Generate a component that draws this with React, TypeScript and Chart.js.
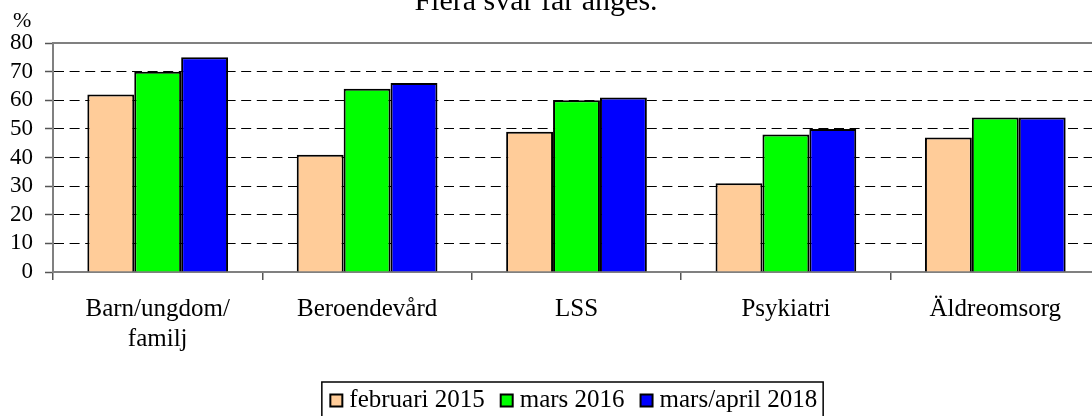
import { useEffect, useRef } from 'react';
import { Chart, registerables } from 'chart.js';

Chart.register(...registerables);

const FAMILY = "'Liberation Serif', 'Times New Roman', serif";

const categories: (string | string[])[] = [['Barn/ungdom/', 'familj'], 'Beroendevård', 'LSS', 'Psykiatri', 'Äldreomsorg'];
const seriesNames = ['februari 2015', 'mars 2016', 'mars/april 2018'];
const feb2015 = [62, 41, 49, 31, 47];
const mar2016 = [70, 64, 60, 48, 54];
const marApr2018 = [75, 66, 61, 50, 54];
const seriesColors = ['#FFCC99', '#00FF00', '#0000FF'];
const yMin = 0;
const yMax = 80;
const yStep = 10;
const titleText = 'Flera svar får anges.';
const unitLabel = '%';

const extraTextPlugin = {
  id: 'extraText',
  afterDraw(chart: any) {
    const { ctx, chartArea, scales } = chart;
    ctx.save();
    ctx.fillStyle = '#000';
    ctx.textBaseline = 'alphabetic';
    ctx.font = `30px ${FAMILY}`;
    ctx.textAlign = 'center';
    ctx.fillText(titleText, 536, 9.5);
    ctx.font = `22px ${FAMILY}`;
    ctx.textAlign = 'left';
    ctx.fillText(unitLabel, scales.y.left + 13, chartArea.top - 16);

    const lg = chart.legend;
    const hb = lg && lg.legendHitBoxes;
    if (hb && hb.length) {
      const first = hb[0];
      const last = hb[hb.length - 1];
      const left = first.left - 8 - 6;
      const right = last.left + last.width + 6;
      const top = first.top - 6;
      ctx.lineWidth = 1.5;
      ctx.strokeStyle = '#000';
      ctx.strokeRect(left, top, right - left, 90);
    }
    ctx.restore();
  },
};

export default function App() {
  const ref = useRef<HTMLCanvasElement | null>(null);

  useEffect(() => {
    if (!ref.current) return;
    const data = [feb2015, mar2016, marApr2018];
    const chart = new Chart(ref.current, {
      type: 'bar',
      data: {
        labels: categories as any,
        datasets: seriesNames.map((name, i) => ({
          label: name,
          data: data[i],
          backgroundColor: seriesColors[i],
          borderColor: '#000',
          borderWidth: { top: 2, left: 2, right: 2, bottom: 0 },
          borderSkipped: 'start',
          categoryPercentage: 0.672,
          barPercentage: 1,
          xAxisID: 'x',
          yAxisID: 'y',
        })),
      },
      options: {
        animation: false,
        responsive: false,
        devicePixelRatio: 1,
        layout: { padding: { top: 43, right: 7, bottom: 0, left: 0 } },
        font: { family: FAMILY },
        color: '#000',
        plugins: {
          title: { display: false },
          tooltip: { enabled: false },
          legend: {
            position: 'bottom',
            fullSize: false,
            labels: {
              font: { size: 25, family: FAMILY },
              color: '#000',
              usePointStyle: true,
              pointStyle: 'rect',
              boxWidth: 1,
              boxHeight: 12,
              padding: 21.5,
              generateLabels: (c: any) =>
                Chart.defaults.plugins.legend.labels
                  .generateLabels(c)
                  .map((it: any) => ({ ...it, lineWidth: 2, strokeStyle: '#000', pointStyle: 'rect' })),
            },
          },
        },
        scales: {
          x: {
            type: 'category',
            position: 'bottom',
            offset: true,
            grid: {
              offset: true,
              drawOnChartArea: false,
              drawTicks: true,
              tickLength: 8,
              color: '#555',
              tickColor: '#555',
              lineWidth: 1.5,
            },
            border: { display: true, color: '#808080', width: 2 },
            ticks: {
              font: { size: 25, family: FAMILY },
              color: '#000',
              padding: 14.5,
              maxRotation: 0,
              autoSkip: false,
            },
            afterFit: (s: any) => {
              s.height = 94.5;
            },
          },
          x2: {
            type: 'category',
            position: 'top',
            offset: true,
            grid: { display: true, drawOnChartArea: false, drawTicks: false, color: 'rgba(0,0,0,0)' },
            border: { display: true, color: '#808080', width: 2 },
            ticks: { display: false },
            afterFit: (s: any) => {
              s.height = 0;
            },
          },
          y: {
            min: yMin,
            max: yMax,
            ticks: {
              stepSize: yStep,
              autoSkip: false,
              font: { size: 23, family: FAMILY },
              color: '#000',
              padding: 12,
            },
            grid: {
              color: (ctx: any) =>
                ctx.tick && (ctx.tick.value === yMin || ctx.tick.value === yMax) ? 'rgba(0,0,0,0)' : '#000',
              lineWidth: 1,
              tickLength: 8,
              tickColor: '#555',
              tickWidth: 1.5,
              tickBorderDash: [],
            },
            border: { display: true, color: '#808080', width: 2, dash: [10, 5.6] },
            afterFit: (s: any) => {
              s.width = 53;
            },
          },
        },
      } as any,
      plugins: [extraTextPlugin],
    });
    return () => chart.destroy();
  }, []);

  return (
    <div
      style={{
        position: 'fixed',
        left: 0,
        top: 0,
        width: 1092,
        height: 416,
        overflow: 'hidden',
        background: '#fff',
      }}
    >
      <canvas ref={ref} width={1107} height={423} style={{ position: 'absolute', left: 0, top: 0 }} />
    </div>
  );
}
